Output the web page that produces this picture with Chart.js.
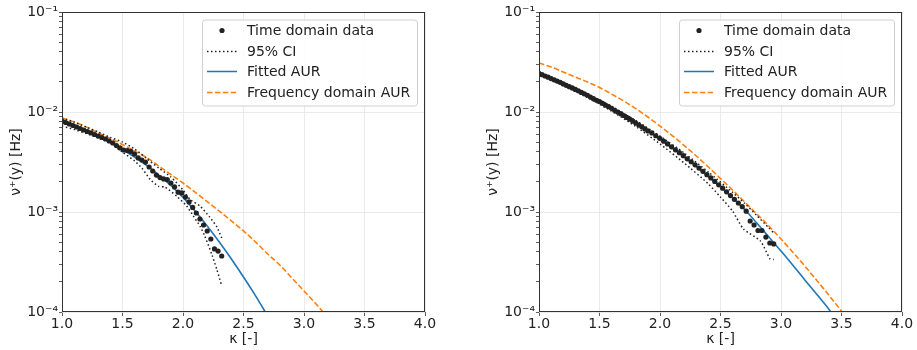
<!DOCTYPE html>
<html>
<head>
<meta charset="utf-8">
<script src="https://cdn.jsdelivr.net/npm/chart.js@4"></script>
<style>
  html, body { margin: 0; padding: 0; background: #fff; }
  body { width: 917px; height: 350px; position: relative; overflow: hidden; }
  .panel { position: absolute; top: 0; height: 350px; }
  #leftWrap { left: 0; width: 460px; }
  #rightWrap { left: 477px; width: 440px; }
</style>
</head>
<body>
<div class="panel" id="leftWrap"><canvas id="leftChart"></canvas></div>
<div class="panel" id="rightWrap"><canvas id="rightChart"></canvas></div>
<script>
// ---- data ----
const xTicks = [1.0, 1.5, 2.0, 2.5, 3.0, 3.5, 4.0];
const yTickLabels = { "-4": "10⁻⁴", "-3": "10⁻³", "-2": "10⁻²", "-1": "10⁻¹" };
const legendLabels = ["Time domain data", "95% CI", "Fitted AUR", "Frequency domain AUR"];

// left panel
const leftDotKappa = [1.00,1.03,1.06,1.09,1.12,1.15,1.18,1.21,1.24,1.27,1.30,1.33,1.36,1.39,1.42,1.45,1.48,1.51,1.54,1.57,1.60,1.63,1.66,1.69,1.72,1.75,1.78,1.81,1.84,1.87,1.90,1.93,1.96,1.99,2.02,2.05,2.08,2.11,2.14,2.17,2.20,2.23,2.26,2.29,2.32];
const leftDotNu = [8.13e-3,7.85e-3,7.59e-3,7.33e-3,7.08e-3,6.84e-3,6.61e-3,6.38e-3,6.17e-3,5.96e-3,
  5.75e-3,5.56e-3,5.37e-3,5.13e-3,4.90e-3,4.62e-3,4.37e-3,4.17e-3,4.12e-3,4.03e-3,
  3.80e-3,3.47e-3,3.31e-3,3.16e-3,2.82e-3,2.57e-3,2.34e-3,2.21e-3,2.14e-3,2.11e-3,
  1.95e-3,1.78e-3,1.58e-3,1.55e-3,1.41e-3,1.26e-3,1.11e-3,9.77e-4,8.51e-4,7.41e-4,
  6.46e-4,5.37e-4,4.27e-4,4.07e-4,3.63e-4];
const leftCiUpKappa = [1.0,1.1,1.2,1.3,1.4,1.5,1.6,1.7,1.8,1.9,2.0,2.06,2.14,2.22,2.28,2.32];
const leftCiUpNu = [8.71e-3,7.94e-3,7.08e-3,6.31e-3,5.56e-3,5.01e-3,4.27e-3,3.43e-3,2.75e-3,2.24e-3,1.66e-3,1.33e-3,1.15e-3,8.91e-4,7.08e-4,5.50e-4];
const leftCiLoKappa = [1.0,1.1,1.2,1.3,1.4,1.5,1.6,1.66,1.73,1.80,1.85,1.95,2.03,2.085,2.14,2.18,2.24,2.28,2.32];
const leftCiLoNu = [7.24e-3,6.68e-3,6.10e-3,5.50e-3,4.90e-3,3.98e-3,3.24e-3,2.75e-3,2.11e-3,1.80e-3,1.78e-3,1.43e-3,1.15e-3,9.12e-4,7.24e-4,5.75e-4,3.72e-4,2.66e-4,1.82e-4];
const leftFitKappa = [1.0,1.1,1.2,1.3,1.4,1.5,1.6,1.7,1.8,1.9,2.0,2.1,2.2,2.3,2.4,2.5,2.6,2.7];
const leftFitNu = [8.41e-3,7.50e-3,6.61e-3,5.75e-3,4.95e-3,4.22e-3,3.55e-3,2.92e-3,2.34e-3,1.84e-3,1.40e-3,1.02e-3,7.24e-4,5.01e-4,3.39e-4,2.24e-4,1.45e-4,9.12e-5];
const leftFreqKappa = [1.0,1.1,1.2,1.3,1.4,1.5,1.6,1.7,1.8,1.9,2.0,2.1,2.2,2.3,2.4,2.5,2.6,2.7,2.8,2.9,3.0,3.1,3.2];
const leftFreqNu = [8.71e-3,7.94e-3,7.08e-3,6.17e-3,5.43e-3,4.73e-3,4.07e-3,3.51e-3,2.88e-3,2.37e-3,1.95e-3,1.58e-3,1.27e-3,1.02e-3,8.13e-4,6.46e-4,5.01e-4,3.80e-4,2.95e-4,2.19e-4,1.62e-4,1.20e-4,8.71e-5];

// right panel
const rightDotKappa = [1.000,1.025,1.050,1.075,1.100,1.125,1.150,1.175,1.200,1.225,1.250,1.275,1.300,1.325,1.350,1.375,1.400,1.425,1.450,1.475,
  1.500,1.525,1.550,1.575,1.600,1.625,1.650,1.675,1.700,1.725,1.750,1.775,1.800,1.825,1.850,1.875,1.900,
  1.9325,1.965,1.9975,2.03,2.0625,2.095,2.1275,2.16,2.1925,2.225,2.2575,2.29,2.3225,2.355,2.3875,2.42,2.4525,2.485,2.5175,2.55,
  2.5825,2.615,2.6475,2.68,2.7125,2.745,2.7775,2.81,2.8425,2.875,2.9075,2.94];
const rightDotNu = [2.43e-2,2.36e-2,2.29e-2,2.23e-2,2.16e-2,2.10e-2,2.04e-2,1.98e-2,1.91e-2,1.85e-2,1.79e-2,1.74e-2,1.68e-2,1.63e-2,1.57e-2,1.52e-2,1.47e-2,1.41e-2,1.36e-2,1.31e-2,
  1.27e-2,1.22e-2,1.17e-2,1.13e-2,1.09e-2,1.04e-2,1.00e-2,9.62e-3,9.23e-3,8.83e-3,8.47e-3,8.11e-3,7.76e-3,7.41e-3,7.10e-3,6.78e-3,6.47e-3,
  6.17e-3,5.79e-3,5.45e-3,5.11e-3,4.79e-3,4.48e-3,4.19e-3,3.92e-3,3.66e-3,3.40e-3,3.18e-3,2.96e-3,2.75e-3,2.55e-3,2.36e-3,2.19e-3,2.02e-3,1.87e-3,1.73e-3,1.59e-3,
  1.46e-3,1.34e-3,1.23e-3,1.13e-3,1.02e-3,8.13e-4,7.41e-4,6.53e-4,6.53e-4,5.62e-4,4.90e-4,4.79e-4];
const rightCiUpKappa = [1.0,1.2,1.4,1.6,1.8,2.0,2.2,2.4,2.6,2.7,2.8,2.9,2.94];
const rightCiUpNu = [2.48e-2,1.97e-2,1.51e-2,1.14e-2,8.22e-3,5.75e-3,3.89e-3,2.51e-3,1.57e-3,1.22e-3,9.23e-4,6.92e-4,6.17e-4];
const rightCiLoKappa = [1.0,1.2,1.4,1.6,1.8,2.0,2.2,2.4,2.5,2.6,2.69,2.83,2.91,2.94];
const rightCiLoNu = [2.37e-2,1.86e-2,1.40e-2,1.02e-2,7.16e-3,4.79e-3,3.09e-3,1.91e-3,1.41e-3,1.02e-3,6.76e-4,5.13e-4,3.39e-4,3.35e-4];
const rightFitKappa = [1.0,1.1,1.2,1.3,1.4,1.5,1.6,1.7,1.8,1.9,2.0,2.1,2.2,2.3,2.4,2.5,2.6,2.7,2.8,2.9,3.0,3.1,3.2,3.3,3.4,3.5];
const rightFitNu = [2.43e-2,2.16e-2,1.91e-2,1.68e-2,1.47e-2,1.27e-2,1.09e-2,9.23e-3,7.76e-3,6.47e-3,5.35e-3,4.38e-3,3.55e-3,2.85e-3,2.26e-3,1.78e-3,1.38e-3,1.06e-3,7.76e-4,5.62e-4,4.07e-4,2.92e-4,2.07e-4,1.48e-4,1.05e-4,7.33e-5];
const rightFreqKappa = [1.0,1.1,1.2,1.3,1.4,1.5,1.6,1.7,1.8,1.9,2.0,2.1,2.2,2.3,2.4,2.5,2.6,2.7,2.8,2.9,3.0,3.1,3.2,3.3,3.4,3.5,3.6];
const rightFreqNu = [3.09e-2,2.82e-2,2.51e-2,2.24e-2,2.00e-2,1.76e-2,1.51e-2,1.29e-2,1.08e-2,8.91e-3,7.24e-3,5.82e-3,4.62e-3,3.63e-3,2.82e-3,2.16e-3,1.66e-3,1.26e-3,9.55e-4,7.24e-4,5.37e-4,3.94e-4,2.85e-4,2.04e-4,1.45e-4,1.02e-4,7.08e-5];

// ---- styling ----
const FONT = "'DejaVu Sans', sans-serif";
const INK = "#222222";
const BLUE = "#1f77b4";
const ORANGE = "#ff7f0e";
const DOT_DASH = [1.5, 2.5];
const DASH = [5.5, 2.4];

const pairs = (xs, ys) => xs.map((x, i) => ({ x, y: ys[i] }));
const isDecade = v => Math.abs(Math.log10(v) - Math.round(Math.log10(v))) < 1e-6;

const frame = {
  id: "frame",
  afterDatasetsDraw(chart) {
    const { ctx, chartArea: a } = chart;
    ctx.save();
    ctx.strokeStyle = "#333";
    ctx.lineWidth = 1;
    ctx.strokeRect(a.left + 0.5, a.top + 0.5, a.right - a.left - 1, a.bottom - a.top - 1);
    ctx.restore();
  }
};

const innerLegend = {
  id: "innerLegend",
  afterDraw(chart) {
    const { ctx, chartArea: a } = chart;
    const w = 215, h = 86;
    const x0 = a.right - 8 - w, y0 = a.top + 7.5;
    ctx.save();
    ctx.beginPath();
    ctx.roundRect(x0 + 0.5, y0 + 0.5, w, h, 3);
    ctx.fillStyle = "rgba(255,255,255,0.85)";
    ctx.fill();
    ctx.strokeStyle = "#d0d0d0";
    ctx.lineWidth = 1;
    ctx.stroke();

    const rows = [11, 32, 52, 73];
    const hx0 = x0 + 5, hx1 = x0 + 35;
    ctx.lineWidth = 1.5;
    rows.forEach((dy, i) => {
      const y = y0 + dy;
      if (i === 0) {
        ctx.beginPath();
        ctx.fillStyle = INK;
        ctx.arc(x0 + 20, y, 2.6, 0, Math.PI * 2);
        ctx.fill();
      } else {
        ctx.beginPath();
        ctx.strokeStyle = i === 1 ? INK : i === 2 ? BLUE : ORANGE;
        ctx.setLineDash(i === 1 ? DOT_DASH : i === 3 ? DASH : []);
        ctx.moveTo(hx0, y);
        ctx.lineTo(hx1, y);
        ctx.stroke();
        ctx.setLineDash([]);
      }
      ctx.fillStyle = INK;
      ctx.font = "14px " + FONT;
      ctx.textBaseline = "middle";
      ctx.fillText(legendLabels[i], x0 + 45, y + 1);
    });
    ctx.restore();
  }
};

function buildPanel(canvasId, rightPad, d) {
  return new Chart(document.getElementById(canvasId), {
    type: "scatter",
    data: {
      datasets: [
        { label: legendLabels[0], data: pairs(d.dotK, d.dotNu), pointRadius: 2.6, pointBackgroundColor: INK, pointBorderWidth: 0, showLine: false },
        { label: legendLabels[1], data: pairs(d.upK, d.upNu), showLine: true, pointRadius: 0, borderColor: INK, borderWidth: 1.5, borderDash: DOT_DASH, tension: 0.2 },
        { label: legendLabels[1], data: pairs(d.loK, d.loNu), showLine: true, pointRadius: 0, borderColor: INK, borderWidth: 1.5, borderDash: DOT_DASH, tension: 0.2 },
        { label: legendLabels[2], data: pairs(d.fitK, d.fitNu), showLine: true, pointRadius: 0, borderColor: BLUE, borderWidth: 1.6, cubicInterpolationMode: "monotone" },
        { label: legendLabels[3], data: pairs(d.freqK, d.freqNu), showLine: true, pointRadius: 0, borderColor: ORANGE, borderWidth: 1.6, borderDash: DASH, cubicInterpolationMode: "monotone" }
      ]
    },
    options: {
      responsive: true,
      maintainAspectRatio: false,
      animation: false,
      layout: { padding: { top: 12, right: rightPad, left: 0, bottom: 0 } },
      plugins: { legend: { display: false }, tooltip: { enabled: false } },
      scales: {
        x: {
          type: "linear",
          min: 1, max: 4,
          afterBuildTicks: s => { s.ticks = xTicks.map(v => ({ value: v })); },
          afterFit: s => { s.height = 38; },
          ticks: { color: INK, font: { family: FONT, size: 14 }, padding: 0, maxRotation: 0, callback: v => v.toFixed(1) },
          grid: { color: "#e4e4e4", lineWidth: 0.8, tickColor: "#333", tickLength: 4 },
          border: { display: false },
          title: { display: true, text: "κ [-]", color: INK, font: { family: FONT, size: 14 }, padding: { top: 0, bottom: 2 } }
        },
        y: {
          type: "logarithmic",
          min: 1e-4, max: 1e-1,
          afterBuildTicks: s => {
            const t = [];
            for (let e = -4; e < -1; e++) for (let m = 1; m < 10; m++) t.push({ value: m * Math.pow(10, e) });
            t.push({ value: 1e-1 });
            s.ticks = t;
          },
          afterFit: s => { s.width = 62; },
          ticks: {
            autoSkip: false, color: INK, font: { family: FONT, size: 14 }, padding: 1,
            callback: v => isDecade(v) ? yTickLabels[String(Math.round(Math.log10(v)))] : ""
          },
          grid: {
            color: c => isDecade(c.tick.value) ? "#e4e4e4" : "rgba(0,0,0,0)",
            tickColor: "#333",
            lineWidth: 0.8,
            tickLength: 3
          },
          border: { display: false },
          title: { display: true, text: "ν⁺(y) [Hz]", color: INK, font: { family: FONT, size: 14 }, padding: { top: 8, bottom: 0 } }
        }
      }
    },
    plugins: [frame, innerLegend]
  });
}

buildPanel("leftChart", 35, {
  dotK: leftDotKappa, dotNu: leftDotNu,
  upK: leftCiUpKappa, upNu: leftCiUpNu,
  loK: leftCiLoKappa, loNu: leftCiLoNu,
  fitK: leftFitKappa, fitNu: leftFitNu,
  freqK: leftFreqKappa, freqNu: leftFreqNu
});
buildPanel("rightChart", 15, {
  dotK: rightDotKappa, dotNu: rightDotNu,
  upK: rightCiUpKappa, upNu: rightCiUpNu,
  loK: rightCiLoKappa, loNu: rightCiLoNu,
  fitK: rightFitKappa, fitNu: rightFitNu,
  freqK: rightFreqKappa, freqNu: rightFreqNu
});
</script>
</body>
</html>
